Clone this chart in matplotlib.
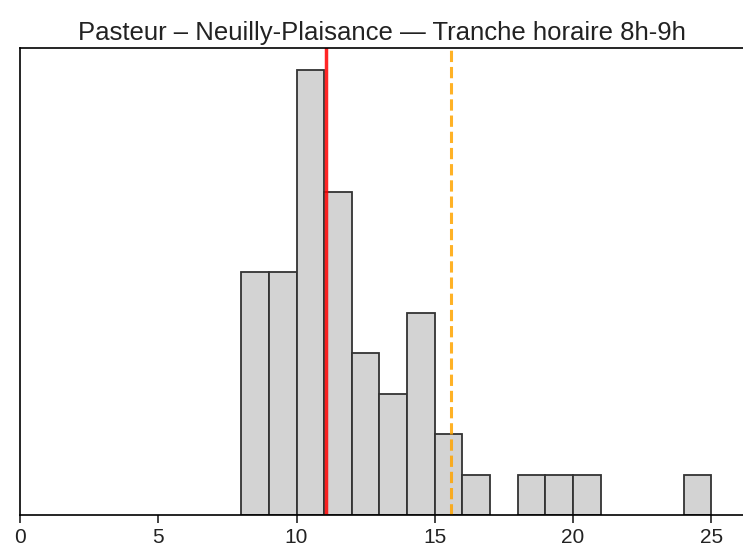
import matplotlib
matplotlib.use("Agg")
import matplotlib.pyplot as plt

# histogram of waiting times (bins of 1 minute)
bin_edges = list(range(8, 26))
counts = [6, 6, 11, 8, 4, 3, 5, 2, 1, 0, 1, 1, 1, 0, 0, 0, 1]
mean_line = 11.07
p90_line = 15.6
title = "Pasteur – Neuilly-Plaisance — Tranche horaire 8h-9h"

plt.rcParams['font.family'] = ['Liberation Sans', 'DejaVu Sans']

fig = plt.figure(figsize=(7.43, 5.47), dpi=100)
ax = fig.add_axes([20 / 743, 32 / 547, 1 - 20 / 743 + 0.002, 467 / 547])

bars = ax.bar(bin_edges[:-1], counts, width=1, align='edge',
              color='lightgray', edgecolor='#333333', linewidth=1.3)
for b, c in zip(bars, counts):
    if c == 0:
        b.set_visible(False)
ax.axvline(mean_line, color='red', linewidth=2.5, alpha=0.85)
ax.axvline(p90_line, color='orange', linestyle='--', linewidth=2.2, alpha=0.85)

ax.set_xlim(0, 26.2)
ax.set_ylim(0, max(counts) * 1.05)
ax.set_xticks([0, 5, 10, 15, 20, 25])
ax.set_yticks([])
ax.tick_params(axis='x', labelsize=15, length=6, width=1.2, colors='#222222')
for s in ax.spines.values():
    s.set_linewidth(1.2)
ax.set_title(title, fontsize=18.5, pad=6, color='#222222')

fig.savefig("out.png", dpi=100)
